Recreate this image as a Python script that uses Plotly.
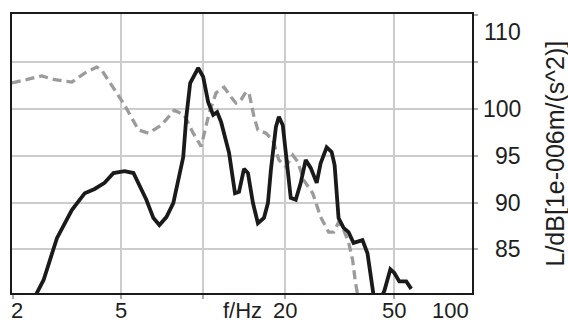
import plotly.graph_objects as go
import numpy as np

# Frequency axis values (Hz) and levels (dB) of the two spectra
freq_a = [2.42, 2.60, 2.91, 3.30, 3.68, 4.00, 4.35, 4.69, 5.15, 5.55, 6.19, 6.57,
          6.91, 7.33, 7.77, 8.45, 8.67, 8.96, 9.59, 10.0, 10.43, 10.88, 11.25,
          11.63, 12.44, 13.08, 13.53, 14.11, 14.59, 15.22, 15.87, 16.70, 17.27,
          17.71, 18.47, 18.94, 19.58, 20.42, 20.94, 21.84, 22.78, 23.76, 24.78,
          26.06, 26.95, 28.35, 29.56, 30.32, 31.09, 31.35, 32.70, 34.11, 35.57,
          38.36, 40.01, 42.08, 44.5, 46.14, 48.53, 50.19, 52.34, 55.52, 57.90]
level_a = [80.0, 81.75, 86.2, 89.2, 91.0, 91.45, 92.1, 93.15, 93.35, 93.15, 90.3,
           88.35, 87.6, 88.45, 89.95, 94.85, 99.1, 102.75, 104.35, 103.4, 100.7,
           99.35, 99.65, 98.6, 95.3, 91.0, 91.15, 93.6, 93.15, 89.95, 87.8, 88.35,
           89.95, 93.5, 98.05, 99.15, 98.25, 93.8, 90.5, 90.3, 92.1, 94.55, 93.7,
           92.1, 94.2, 95.9, 95.4, 94.0, 89.95, 88.35, 87.3, 86.85, 85.7, 86.0,
           84.6, 80.2, 79.6, 80.6, 82.9, 82.5, 81.6, 81.6, 80.8]

freq_b = [1.99, 2.56, 2.86, 3.30, 3.68, 4.07, 4.24, 4.73, 5.15, 5.79, 6.30, 7.02,
          7.84, 8.52, 9.19, 9.83, 10.52, 11.15, 11.93, 12.65, 13.19, 13.76,
          14.35, 14.72, 15.35, 15.87, 16.98, 18.01, 18.94, 20.08, 21.30, 22.21,
          23.36, 25.20, 26.95, 28.83, 30.06, 31.35, 32.70, 34.11, 35.28, 36.17,
          36.9]
level_b = [102.75, 103.5, 103.1, 102.85, 103.8, 104.45, 104.15, 102.0, 100.4,
           97.75, 97.4, 98.25, 99.85, 99.35, 97.4, 96.0, 99.55, 101.7, 102.3,
           101.25, 100.6, 100.95, 101.8, 101.7, 99.15, 97.75, 97.4, 96.65, 94.55,
           93.8, 95.05, 94.35, 92.4, 91.0, 88.45, 86.85, 86.85, 87.9, 87.1, 85.8,
           83.9, 81.45, 80.0]

x_tick_vals = [2, 5, 10, 20, 50, 100]
x_tick_text = ["2", "5", "f/Hz", "20", "50", "100"]
y_tick_vals = [85, 90, 95, 100, 105, 110]
y_tick_text = ["85", "90", "95", "100", "", "110"]
y_title = "L/dB[1e-006m/(s^2)]"

FONT = "Liberation Sans, Arial, sans-serif"
TXT = "#1e1e1e"
TICK_SIZE = 22

fig = go.Figure()
fig.add_trace(go.Scatter(x=freq_b, y=level_b, mode="lines",
                         line=dict(color="#9b9b9b", width=3.3, dash="9px,5px"),
                         showlegend=False))
fig.add_trace(go.Scatter(x=freq_a, y=level_a, mode="lines",
                         line=dict(color="#1a1a1a", width=3.8),
                         showlegend=False))

fig.update_layout(
    width=568, height=322,
    margin=dict(l=10, r=96, t=14, b=29),
    paper_bgcolor="white", plot_bgcolor="white",
    font=dict(family=FONT, color=TXT),
)
fig.update_xaxes(
    type="log", range=[0.2992, 1.9853],
    tickvals=x_tick_vals, showticklabels=False,
    ticks="outside", ticklen=4, tickcolor="#aaaaaa", tickwidth=1.5,
    showgrid=True, gridcolor="#cccccc", gridwidth=2,
    showline=True, linecolor="#1a1a1a", linewidth=2.2, mirror=True,
    zeroline=False,
)
fig.update_yaxes(
    side="right", range=[80.36, 110.107],
    tickvals=y_tick_vals, showticklabels=False,
    ticks="outside", ticklen=4, tickcolor="#aaaaaa", tickwidth=1.5,
    showgrid=True, gridcolor="#cccccc", gridwidth=2,
    showline=True, linecolor="#1a1a1a", linewidth=2.2, mirror=True,
    zeroline=False,
)

# x tick labels: the edge labels are nudged inward, "f/Hz" sits beside "20"
x_shift = {"2": 4, "f/Hz": 39}
for v, t in zip(x_tick_vals, x_tick_text):
    if t == "100":
        fig.add_annotation(x=1, xref="paper", y=0, yref="paper", text=t,
                           xanchor="right", yanchor="top", xshift=-1, yshift=-3,
                           showarrow=False,
                           font=dict(size=TICK_SIZE, family=FONT, color=TXT))
    else:
        fig.add_annotation(x=np.log10(v), xref="x", y=0, yref="paper", text=t,
                           xanchor="center", yanchor="top", xshift=x_shift.get(t, 0),
                           yshift=-3, showarrow=False,
                           font=dict(size=TICK_SIZE, family=FONT, color=TXT))

# y tick labels, right-aligned; the top label is pulled down inside the frame
for v, t in zip(y_tick_vals, y_tick_text):
    if not t:
        continue
    fig.add_annotation(x=1, xref="paper", y=v, yref="y", text=t,
                       xanchor="right", yanchor="middle", xshift=51,
                       yshift=-17 if v == 110 else 0,
                       showarrow=False,
                       font=dict(size=TICK_SIZE + 1, family=FONT, color=TXT))

fig.add_annotation(x=1, xref="paper", y=0.5, yref="paper", text=y_title,
                   textangle=-90, xanchor="center", yanchor="middle", xshift=82,
                   showarrow=False, font=dict(size=25, family=FONT, color=TXT))

fig.write_html("out.html")
